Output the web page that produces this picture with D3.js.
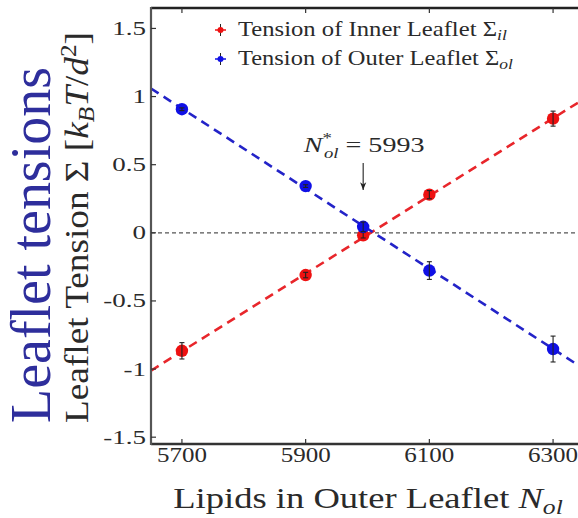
<!DOCTYPE html>
<html>
<head>
<meta charset="utf-8">
<script src="https://cdn.jsdelivr.net/npm/d3@7"></script>
<style>
  body { margin: 0; background: #fff; }
  text { font-family: "Liberation Serif", "Times New Roman", serif; }
</style>
</head>
<body>
<script>
// chart data
var xTicks = [5700, 5900, 6100, 6300];
var yTicks = [-1.5, -1, -0.5, 0, 0.5, 1, 1.5];
var yTickLabels = ["-1.5", "-1", "-0.5", "0", "0.5", "1", "1.5"];

var nOuter = [5700, 5900, 5993, 6100, 6300];
var innerTension = [-0.866, -0.31, -0.018, 0.28, 0.838];
var innerErr = [0.06, 0.02, 0.02, 0.03, 0.055];
var outerTension = [0.907, 0.343, 0.044, -0.277, -0.853];
var outerErr = [0.01, 0.01, 0.035, 0.065, 0.095];

// linear fits, value at each end of the x range
var fitX = [5650, 6350];
var innerFit = [-1.012, 0.983];
var outerFit = [1.059, -0.999];
var crossing = 5993;

var svgWidth = 578;
var svgHeight = 518;

var plot = { left: 151, top: 8, right: 584, bottom: 444 };

var svg = d3.select("body")
  .append("svg")
  .attr("width", svgWidth)
  .attr("height", svgHeight);

var xScale = d3.scaleLinear()
  .domain([5650, 6350])
  .range([plot.left, plot.right]);

var yScale = d3.scaleLinear()
  .domain([-1.55, 1.65])
  .range([plot.bottom, plot.top]);

// text stretched along its own direction to a target length
function wideText(parent, x, y, size, width, anchor, build, rot) {
  var g = parent.append("g");
  var t = g.append("text")
    .attr("font-size", size)
    .attr("fill", "#2a2a2a")
    .attr("text-anchor", anchor);
  build(t);
  var w = t.node().getBBox().width;
  var sx = width ? width / w : 1;
  g.attr("transform", `translate(${x},${y})` + (rot ? ` rotate(${rot})` : "") + ` scale(${sx},1)`);
  return t;
}

// clip for the marks
svg.append("clipPath").attr("id", "plotClip")
  .append("rect")
  .attr("x", plot.left).attr("y", plot.top)
  .attr("width", plot.right - plot.left)
  .attr("height", plot.bottom - plot.top);

var marks = svg.append("g").attr("clip-path", "url(#plotClip)");

// zero line
marks.append("line")
  .attr("x1", plot.left).attr("x2", plot.right)
  .attr("y1", yScale(0)).attr("y2", yScale(0))
  .attr("stroke", "#555")
  .attr("stroke-width", 1.3)
  .attr("stroke-dasharray", "4,3");

// fit lines
var fitLine = d3.line()
  .x(d => xScale(d[0]))
  .y(d => yScale(d[1]));

marks.append("path")
  .attr("d", fitLine(d3.zip(fitX, innerFit)))
  .attr("fill", "none")
  .attr("stroke", "#e8262b")
  .attr("stroke-width", 2.6)
  .attr("stroke-dasharray", "9,6");

marks.append("path")
  .attr("d", fitLine(d3.zip(fitX, outerFit)))
  .attr("fill", "none")
  .attr("stroke", "#2323c8")
  .attr("stroke-width", 2.6)
  .attr("stroke-dasharray", "9,6");

// points with error bars
function drawSeries(values, errs, color) {
  var data = nOuter.map((n, i) => ({ n: n, v: values[i], e: errs[i] }));
  var g = marks.append("g");
  g.selectAll("circle")
    .data(data)
    .enter()
    .append("circle")
    .attr("cx", d => xScale(d.n))
    .attr("cy", d => yScale(d.v))
    .attr("r", 6.2)
    .attr("fill", color);
  var bars = g.selectAll("g.err")
    .data(data)
    .enter()
    .append("g")
    .attr("stroke", "#222")
    .attr("stroke-width", 1.1);
  bars.append("line")
    .attr("x1", d => xScale(d.n)).attr("x2", d => xScale(d.n))
    .attr("y1", d => yScale(d.v - d.e)).attr("y2", d => yScale(d.v + d.e));
  bars.append("line")
    .attr("x1", d => xScale(d.n) - 2.5).attr("x2", d => xScale(d.n) + 2.5)
    .attr("y1", d => yScale(d.v - d.e)).attr("y2", d => yScale(d.v - d.e));
  bars.append("line")
    .attr("x1", d => xScale(d.n) - 2.5).attr("x2", d => xScale(d.n) + 2.5)
    .attr("y1", d => yScale(d.v + d.e)).attr("y2", d => yScale(d.v + d.e));
}

drawSeries(innerTension, innerErr, "#ee1111");
drawSeries(outerTension, outerErr, "#1010e6");

// frame
var frame = svg.append("g").attr("fill", "none");
frame.append("line")
  .attr("x1", plot.left).attr("x2", plot.right)
  .attr("y1", plot.top).attr("y2", plot.top)
  .attr("stroke", "#222").attr("stroke-width", 2.5);
frame.append("line")
  .attr("x1", plot.left).attr("x2", plot.right)
  .attr("y1", plot.bottom).attr("y2", plot.bottom)
  .attr("stroke", "#333").attr("stroke-width", 2.5);
frame.append("line")
  .attr("x1", plot.left).attr("x2", plot.left)
  .attr("y1", plot.top - 1).attr("y2", plot.bottom + 1)
  .attr("stroke", "#555").attr("stroke-width", 2.2);

// ticks (inward)
xTicks.forEach(function (t) {
  frame.append("line")
    .attr("x1", xScale(t)).attr("x2", xScale(t))
    .attr("y1", plot.bottom).attr("y2", plot.bottom - 5)
    .attr("stroke", "#333").attr("stroke-width", 1.2);
  frame.append("line")
    .attr("x1", xScale(t)).attr("x2", xScale(t))
    .attr("y1", plot.top).attr("y2", plot.top + 5)
    .attr("stroke", "#333").attr("stroke-width", 1.2);
  wideText(svg, xScale(t), 462, 20, 50, "middle", s => s.text(t));
});

yTicks.forEach(function (t, i) {
  frame.append("line")
    .attr("x1", plot.left).attr("x2", plot.left + 5)
    .attr("y1", yScale(t)).attr("y2", yScale(t))
    .attr("stroke", "#333").attr("stroke-width", 1.2);
  var lab = wideText(svg, 146, yScale(t) + 6.5, 19, 0, "end", s => s.text(yTickLabels[i]));
  lab.node().parentNode.setAttribute("transform", `translate(146,${yScale(t) + 6.5}) scale(1.42,1)`);
});

// x axis title
wideText(svg, 368, 508, 30, 390, "middle", function (s) {
  s.append("tspan").text("Lipids in Outer Leaflet ");
  s.append("tspan").attr("font-style", "italic").text("N");
  s.append("tspan").attr("font-style", "italic").attr("font-size", 21).attr("dy", 6).text("ol");
});

// y axis title
wideText(svg, 88, 227.5, 34, 391, "middle", function (s) {
  s.append("tspan").text("Leaflet  Tension  Σ  [");
  s.append("tspan").attr("font-style", "italic").text("k");
  s.append("tspan").attr("font-style", "italic").attr("font-size", 23).attr("dy", 6).text("B");
  s.append("tspan").attr("font-style", "italic").attr("dy", -6).text("T");
  s.append("tspan").text("/");
  s.append("tspan").attr("font-style", "italic").text("d");
  s.append("tspan").attr("font-size", 23).attr("dy", -12).text("2");
  s.append("tspan").attr("dy", 12).text("]");
}, -90);

// big annotation
wideText(svg, 50, 245, 57, 356, "middle", function (s) {
  s.attr("fill", "#2e2e9c").text("Leaflet tensions");
}, -90);

// crossing annotation
var cx = xScale(crossing);
wideText(svg, cx + 1, 152, 21, 122, "middle", function (s) {
  s.append("tspan").attr("font-style", "italic").text("N");
  s.append("tspan").attr("font-size", 14).attr("dy", -9).text("*");
  s.append("tspan").attr("font-style", "italic").attr("font-size", 14).attr("dx", -6).attr("dy", 15).text("ol");
  s.append("tspan").attr("dy", -6).text(" = 5993");
});

svg.append("defs").append("marker")
  .attr("id", "arrowHead")
  .attr("viewBox", "0 0 10 10")
  .attr("refX", 10).attr("refY", 5)
  .attr("markerWidth", 7).attr("markerHeight", 7)
  .attr("orient", "auto")
  .append("path")
  .attr("d", "M0,1 L10,5 L0,9 L3,5 Z")
  .attr("fill", "#222");

svg.append("line")
  .attr("x1", cx).attr("x2", cx)
  .attr("y1", 163).attr("y2", 190)
  .attr("stroke", "#222").attr("stroke-width", 1.1)
  .attr("marker-end", "url(#arrowHead)");

// legend
var legendItems = [
  { color: "#ee1111", label: "Tension of Inner Leaflet ", sub: "il", y: 36 },
  { color: "#1010e6", label: "Tension of Outer Leaflet ", sub: "ol", y: 65 }
];
var legendWidths = [269, 275];

legendItems.forEach(function (d, i) {
  var my = d.y - 6;
  var lg = svg.append("g");
  lg.append("line")
    .attr("x1", 215).attr("x2", 226)
    .attr("y1", my).attr("y2", my)
    .attr("stroke", d.color).attr("stroke-width", 1.5);
  lg.append("line")
    .attr("x1", 220.5).attr("x2", 220.5)
    .attr("y1", my - 6).attr("y2", my + 6)
    .attr("stroke", "#222").attr("stroke-width", 1);
  lg.append("circle")
    .attr("cx", 220.5).attr("cy", my).attr("r", 3)
    .attr("fill", d.color);
  wideText(svg, 238, d.y, 21, legendWidths[i], "start", function (s) {
    s.append("tspan").text(d.label + "Σ");
    s.append("tspan").attr("font-style", "italic").attr("font-size", 15).attr("dy", 4).text(d.sub);
  });
});
</script>
</body>
</html>
